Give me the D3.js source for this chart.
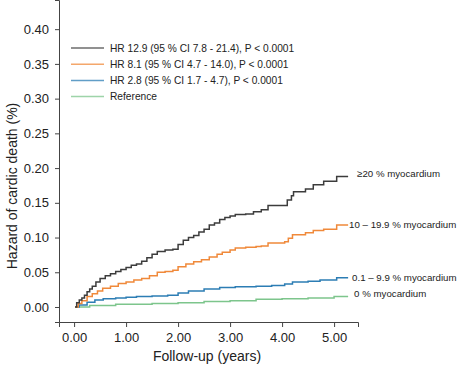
<!DOCTYPE html>
<meta charset="utf-8">
<style>
    body { margin: 0; background: #fff; }
    text { font-family: "Liberation Sans", Arial, sans-serif; fill: #222; }
    .axis path, .axis line { stroke: #444; }
    .axis text { font-size: 13px; fill: #222; }
</style>
<body>
<svg width="460" height="365"></svg>
<script src="https://cdn.jsdelivr.net/npm/d3@7"></script>
<script>
    // years of follow-up and cumulative hazard
    const blackT = [0.02, 0.05, 0.1, 0.15, 0.2, 0.25, 0.3, 0.35, 0.42, 0.5, 0.6, 0.7, 0.8, 0.9, 1.0, 1.1, 1.2, 1.3, 1.4, 1.5, 1.6, 1.75, 1.9, 2.0, 2.1, 2.2, 2.3, 2.4, 2.5, 2.6, 2.7, 2.8, 2.9, 3.0, 3.1, 3.3, 3.45, 3.6, 3.73, 4.1, 4.18, 4.22, 4.45, 4.6, 4.8, 5.05, 5.27];
    const blackV = [0, 0.006, 0.010, 0.013, 0.017, 0.022, 0.026, 0.030, 0.036, 0.041, 0.045, 0.048, 0.051, 0.054, 0.057, 0.060, 0.062, 0.066, 0.071, 0.076, 0.080, 0.082, 0.083, 0.090, 0.096, 0.100, 0.103, 0.108, 0.112, 0.118, 0.121, 0.126, 0.129, 0.131, 0.133, 0.134, 0.137, 0.140, 0.146, 0.154, 0.160, 0.166, 0.170, 0.176, 0.181, 0.188, 0.188];

    const orangeT = [0.02, 0.08, 0.15, 0.25, 0.35, 0.45, 0.55, 0.7, 0.85, 1.0, 1.15, 1.3, 1.45, 1.6, 1.75, 1.9, 2.0, 2.15, 2.3, 2.45, 2.6, 2.75, 2.85, 3.0, 3.1, 3.3, 3.5, 3.6, 3.73, 4.05, 4.12, 4.2, 4.45, 4.6, 4.8, 5.05, 5.27];
    const orangeV = [0, 0.005, 0.009, 0.015, 0.019, 0.023, 0.027, 0.030, 0.034, 0.036, 0.039, 0.041, 0.045, 0.050, 0.051, 0.053, 0.058, 0.062, 0.065, 0.068, 0.072, 0.076, 0.079, 0.082, 0.085, 0.086, 0.087, 0.088, 0.092, 0.094, 0.099, 0.104, 0.107, 0.110, 0.112, 0.118, 0.118];

    const blueT = [0.02, 0.1, 0.25, 0.4, 0.56, 0.8, 1.0, 1.2, 1.5, 1.8, 2.0, 2.2, 2.5, 2.8, 3.1, 3.5, 3.8, 4.05, 4.2, 4.5, 4.73, 5.05, 5.27];
    const blueV = [0, 0.003, 0.007, 0.010, 0.012, 0.013, 0.014, 0.015, 0.016, 0.017, 0.020, 0.023, 0.026, 0.028, 0.029, 0.030, 0.031, 0.033, 0.036, 0.037, 0.039, 0.042, 0.042];

    const greenT = [0.02, 0.3, 0.8, 1.5, 2.0, 2.5, 3.0, 3.5, 4.0, 4.5, 5.0, 5.27];
    const greenV = [0, 0.002, 0.004, 0.005, 0.006, 0.008, 0.009, 0.011, 0.012, 0.013, 0.015, 0.015];

    const legendLabels = ["HR 12.9 (95 % CI 7.8 - 21.4), P < 0.0001", "HR 8.1 (95 % CI 4.7 - 14.0), P < 0.0001", "HR 2.8 (95 % CI 1.7 - 4.7), P < 0.0001", "Reference"];
    const endLabels = ["\u226520 % myocardium", "10 \u2013 19.9 % myocardium", "0.1 \u2013 9.9 % myocardium", "0 % myocardium"];
    const xTicks = [0, 1, 2, 3, 4, 5];
    const yTicks = [0, 0.05, 0.10, 0.15, 0.20, 0.25, 0.30, 0.35, 0.40];

    const colors = ["#3c3c3c", "#f0893a", "#2c7db4", "#7dc58c"];
    const series = [[blackT, blackV], [orangeT, orangeV], [blueT, blueV], [greenT, greenV]]
        .map(s => s[0].map((t, i) => ({ t: t, v: s[1][i] })));

    const svg = d3.select("svg");

    const x = d3.scaleLinear().domain([-0.29, 5.46]).range([59, 358]);
    const y = d3.scaleLinear().domain([-0.0216, 0.442]).range([322, 0]);

    svg.append("g")
        .attr("class", "axis")
        .attr("transform", "translate(0,322)")
        .call(d3.axisBottom(x).tickValues(xTicks).tickFormat(d3.format(".2f")).tickSizeOuter(0).tickSize(5).tickPadding(6));

    svg.append("g")
        .attr("class", "axis")
        .attr("transform", "translate(59,0)")
        .call(d3.axisLeft(y).tickValues(yTicks).tickFormat(d3.format(".2f")).tickSizeOuter(0).tickSize(4).tickPadding(6));

    // axis titles
    svg.append("text")
        .attr("x", 207).attr("y", 361)
        .attr("text-anchor", "middle")
        .style("font-size", "14px")
        .text("Follow-up (years)");

    svg.append("text")
        .attr("transform", "translate(17,186) rotate(-90)")
        .attr("text-anchor", "middle")
        .style("font-size", "14px")
        .text("Hazard of cardic death (%)");

    const line = d3.line()
        .x(d => x(d.t))
        .y(d => y(d.v))
        .curve(d3.curveStepAfter);

    // draw reference first so the black curve is on top
    series.slice().reverse().forEach((s, j) => {
        const i = series.length - 1 - j;
        svg.append("path")
            .datum(s)
            .attr("d", line)
            .attr("fill", "none")
            .attr("stroke", colors[i])
            .attr("stroke-width", 1.5);
    });

    // labels at the end of each curve
    const endDx = [9, 1, 4, 6];
    const endDy = [-3, 0, 0, -3];
    series.forEach((s, i) => {
        const last = s[s.length - 1];
        svg.append("text")
            .attr("x", x(last.t) + endDx[i])
            .attr("y", y(last.v) + endDy[i])
            .attr("dy", "0.35em")
            .style("font-size", "9.7px")
            .text(endLabels[i]);
    });

    // legend
    const legend = svg.append("g").attr("transform", "translate(71,48)");
    legendLabels.forEach((lab, i) => {
        const g = legend.append("g").attr("transform", "translate(0," + (i * 16.2) + ")");
        g.append("line")
            .attr("x1", 0).attr("x2", 33)
            .attr("stroke", colors[i])
            .attr("stroke-opacity", 0.75)
            .attr("stroke-width", 1.5);
        g.append("text")
            .attr("x", 39)
            .attr("dy", "0.35em")
            .style("font-size", "10.2px")
            .text(lab);
    });
</script>
</body>
